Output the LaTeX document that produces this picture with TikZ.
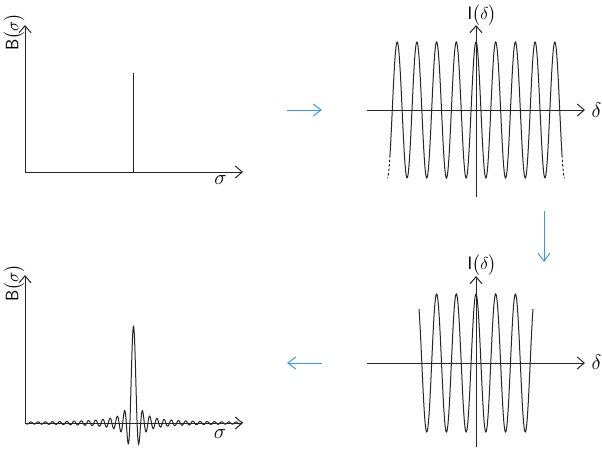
\documentclass[tikz,border=0pt]{standalone}
\usepackage{amsmath}
\usepackage{tikz}
\usetikzlibrary{arrows.meta}
\definecolor{flowblue}{RGB}{51,153,255}
\tikzstyle{axis}=[
   -{Straight Barb[length=7pt,width=12pt]},
   line width=1pt,
   draw=black!85
]
\tikzstyle{flow}=[
   -{Straight Barb[length=8pt,width=12pt]},
   line width=1pt,
   draw=flowblue
]
\tikzstyle{curve}=[line width=1pt, draw=black!85]
\tikzstyle{lbl}=[inner sep=0pt, font=\sffamily\fontsize{18}{21}\selectfont]
\tikzstyle{sym}=[inner sep=0pt, font=\fontsize{21}{24}\selectfont]

\begin{document}
\begin{tikzpicture}[x=1pt,y=-1pt]
  \useasboundingbox (0,0) rectangle (602,448);

  % spectrum, one line
  \coordinate (bo)  at (25,172);
  \coordinate (bx)  at (243,172);
  \coordinate (by)  at (25,25);
  \coordinate (ln)  at (133,172);
  \coordinate (lnt) at (133,73);
  \draw[axis]  (bo) -- (bx);
  \draw[axis]  (bo) -- (by);
  \draw[curve] (ln) -- (lnt);
  \node[lbl,rotate=90] (bsig) at (14,32)    {B$\bigl(\sigma\bigr)$};
  \node[sym]           (sig)  at (220.5,180) {$\sigma$};

  % interferogram, infinite
  \coordinate (iol) at (367,110);
  \coordinate (ix)  at (585,110);
  \coordinate (iob) at (476,197);
  \coordinate (iy)  at (476,25);
  \draw[axis] (iol) -- (ix);
  \draw[axis] (iob) -- (iy);
  \draw[curve] plot[domain=390:562,samples=400] (\x,{110-68*cos((\x-476)*18.274)});
  \draw[curve,dash pattern=on 2.5pt off 2pt] plot[domain=390:387.4,samples=10] (\x,{110-68*cos((\x-476)*18.274)});
  \draw[curve,dash pattern=on 2.5pt off 2pt] plot[domain=562:564.6,samples=10] (\x,{110-68*cos((\x-476)*18.274)});
  \node[lbl] (idel) at (482,15.5) {I$\bigl(\delta\bigr)$};
  \node[sym] (del)  at (596.5,110) {$\delta$};

  % interferogram, truncated
  \coordinate (jol) at (367,363);
  \coordinate (jx)  at (585,363);
  \coordinate (job) at (476,447);
  \coordinate (jy)  at (476,276);
  \draw[axis] (jol) -- (jx);
  \draw[axis] (job) -- (jy);
  \draw[curve] plot[domain=419:533,samples=300] (\x,{363-69*cos((\x-476)*18.274)});
  \node[lbl] (jdel) at (482,265)     {I$\bigl(\delta\bigr)$};
  \node[sym] (del2) at (596.5,362.5) {$\delta$};

  % spectrum, sinc
  \coordinate (co) at (25,423);
  \coordinate (cx) at (243,423);
  \coordinate (cy) at (25,275);
  \draw[axis] (co) -- (cx);
  \draw[axis] (co) -- (cy);
  \draw[curve] plot[domain=25:243,samples=500] (\x,{423-97*sin((\x-133.5)*50)/(pi*(\x-133.5)/3.6)});
  \node[lbl,rotate=90] (csig) at (14,283)  {B$\bigl(\sigma\bigr)$};
  \node[sym]           (sig2) at (220,434) {$\sigma$};

  % steps
  \coordinate (f1s) at (287,110);
  \coordinate (f1e) at (322,110);
  \coordinate (f2s) at (544,211);
  \coordinate (f2e) at (544,262);
  \coordinate (f3s) at (322,363);
  \coordinate (f3e) at (287,363);
  \draw[flow] (f1s) -- (f1e);
  \draw[flow] (f2s) -- (f2e);
  \draw[flow] (f3s) -- (f3e);

\end{tikzpicture}
\end{document}
